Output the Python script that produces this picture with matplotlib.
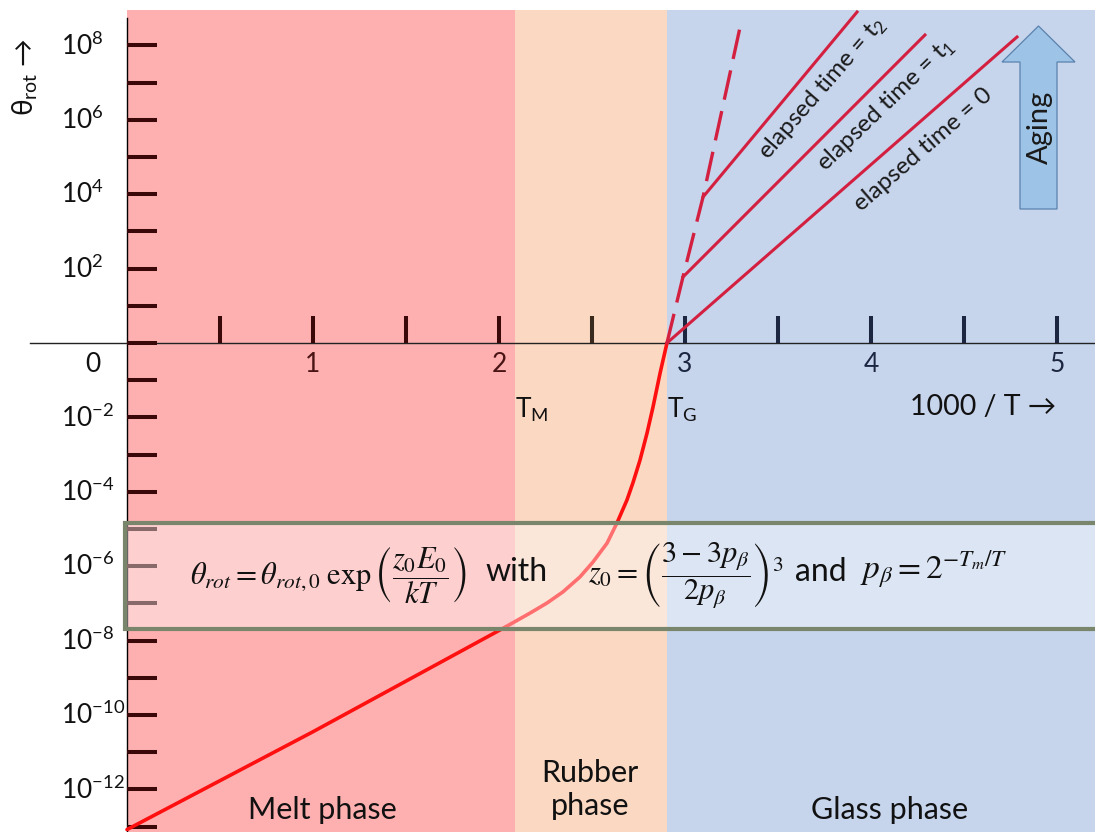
import numpy as np
import matplotlib.pyplot as plt
from matplotlib.patches import Rectangle, Polygon

## 1 Data (x = 1000/T, y = log10 of theta_rot)
melt_end = 2.086   # T_M
glass_start = 2.903  # T_G

# main curve: melt phase line and steep rise through rubber phase
curve_x = [0.0, 1.0, 2.005, 2.075, 2.167, 2.258, 2.344, 2.435, 2.505, 2.581,
           2.634, 2.688, 2.720, 2.758, 2.796, 2.828, 2.866, 2.903]
curve_y = [-13.08, -10.45, -7.715, -7.52, -7.26, -6.99, -6.69, -6.29, -5.89, -5.38,
           -4.84, -4.22, -3.76, -3.15, -2.42, -1.72, -0.81, 0.0]

# dashed extension of the steep part into the glass phase
dash_x = [2.903, 2.989, 3.097, 3.296]
dash_y = [0.0, 1.774, 3.925, 8.49]

# glass phase lines for different elapsed times
t0_x, t0_y = [2.903, 4.785], [0.0, 8.226]
t1_x, t1_y = [2.989, 4.290], [1.774, 8.28]
t2_x, t2_y = [3.097, 3.925], [3.925, 8.898]

y_ticks = np.arange(-13, 9)
y_labels = [-12, -10, -8, -6, -4, -2, 2, 4, 6, 8]
x_ticks = np.arange(0.5, 5.01, 0.5)
x_labels = [1, 2, 3, 4, 5]

## 2 Figure set-up, axes spans the whole picture
fig = plt.figure(figsize=(10.95, 8.32), dpi=100)
ax = fig.add_axes([0, 0, 1, 1])
ax.axis('off')
xmin, xmax = -127 / 186, (1095 - 127) / 186
ymin, ymax = (343 - 832) / 37.2, 343 / 37.2
ax.set_xlim(xmin, xmax)
ax.set_ylim(ymin, ymax)

sans = ['Lato', 'DejaVu Sans']
top = 8.95

# phase backgrounds
ax.add_patch(Rectangle((0, ymin), melt_end, top - ymin, color='#feb0b0', zorder=1, lw=0))
ax.add_patch(Rectangle((melt_end, ymin), glass_start - melt_end, top - ymin, color='#fad8c2', zorder=1, lw=0))
ax.add_patch(Rectangle((glass_start, ymin), xmax - glass_start, top - ymin, color='#c6d4ec', zorder=1, lw=0))

# axis lines
ax.plot([0, 0], [ymin, 8.74], color='black', lw=1.0, zorder=2)
ax.plot([-0.52, xmax], [0, 0], color='#222222', lw=1.0, zorder=2)

# y ticks (drawn inwards)
ax.hlines(y_ticks, 0, 0.161, colors='#3a0808', lw=2.9, zorder=2)
for e in y_labels:
    ax.text(-0.355, e, '10$^{\\mathregular{%d}}$' % e, family=sans, fontsize=19,
            ha='left', va='center', color='#111111', zorder=6)

# x ticks (drawn upwards)
for xt in x_ticks:
    if xt < melt_end:
        c = '#3a0808'
    elif xt < glass_start:
        c = '#3a2a1e'
    else:
        c = '#1c2640'
    ax.vlines(xt, 0, 0.726, colors=c, lw=2.9, zorder=2)
for xl in x_labels:
    c = '#4a1414' if xl < melt_end else '#1c2640'
    ax.text(xl, -0.59, str(xl), family=sans, fontsize=19, ha='center', va='center', color=c, zorder=6)
ax.text(-0.183, -0.59, '0', family=sans, fontsize=19, ha='center', va='center', color='#111111')

## 3 Curves
ax.plot(curve_x, curve_y, color='#ff1010', lw=2.6, zorder=3, solid_capstyle='round',
        solid_joinstyle='round')
ax.plot(dash_x, dash_y, color='#d42040', lw=2.4, zorder=3, dashes=(9, 3.5))
ax.plot(t0_x, t0_y, color='#d42040', lw=2.2, zorder=3)
ax.plot(t1_x, t1_y, color='#d42040', lw=2.2, zorder=3)
ax.plot(t2_x, t2_y, color='#d42040', lw=2.2, zorder=3)

ax.text(4.28, 5.20, 'elapsed time = 0', family=sans, fontsize=17.5, rotation=41,
        ha='center', va='center', rotation_mode='anchor', color='#1a1a1a')
ax.text(4.08, 6.38, 'elapsed time = t$_{\\mathregular{1}}$', family=sans, fontsize=17.5, rotation=44,
        ha='center', va='center', rotation_mode='anchor', color='#1a1a1a')
ax.text(3.74, 6.84, 'elapsed time = t$_{\\mathregular{2}}$', family=sans, fontsize=17.5, rotation=49,
        ha='center', va='center', rotation_mode='anchor', color='#1a1a1a')

## 4 Aging arrow
ax_c = (1038.5 - 127) / 186
hw, sw = 36.5 / 186, 18.5 / 186
a_top, a_neck, a_bot = (343 - 26) / 37.2, (343 - 62) / 37.2, (343 - 209) / 37.2
arrow = Polygon([(ax_c, a_top), (ax_c + hw, a_neck), (ax_c + sw, a_neck), (ax_c + sw, a_bot),
                 (ax_c - sw, a_bot), (ax_c - sw, a_neck), (ax_c - hw, a_neck)],
                closed=True, facecolor='#9dc3e6', edgecolor='#5a82ad', lw=0.9, zorder=3)
ax.add_patch(arrow)
ax.text(ax_c + 0.01, (343 - 127) / 37.2, 'Aging', family=sans, fontsize=21, rotation=90,
        ha='center', va='center', color='#1a1a1a', zorder=4)

## 5 Labels
ax.text(-0.548, 7.14, 'θ$_{\\mathregular{rot}}$ →', family=sans, fontsize=20, rotation=90,
        ha='center', va='center', color='#111111')
ax.text(melt_end, -1.80, 'T$_{\\mathregular{M}}$', family=sans, fontsize=19, ha='left', va='center', color='#111111')
ax.text(glass_start, -1.80, 'T$_{\\mathregular{G}}$', family=sans, fontsize=19, ha='left', va='center', color='#111111')
ax.text(4.21, -1.72, '1000 / T →', family=sans, fontsize=20.5, ha='left', va='center', color='#111111')

ax.text(1.048, -12.55, 'Melt phase', family=sans, fontsize=22, ha='center', va='center', color='#111111')
ax.text(2.489, -12.0, 'Rubber\nphase', family=sans, fontsize=22, ha='center', va='center',
        linespacing=1.25, color='#111111')
ax.text(4.10, -12.55, 'Glass phase', family=sans, fontsize=22, ha='center', va='center', color='#111111')

## 6 Formula box
box = Rectangle((-0.0108, -7.69), 5.3, 2.85, facecolor=(1, 1, 1, 0.4), edgecolor='#7a866c',
                lw=3.0, zorder=4)
ax.add_patch(box)
ax.text(0.339, -6.24, r'$\theta_{rot} = \theta_{rot,0}\;\exp\left(\dfrac{z_0 E_0}{kT}\right)$',
        math_fontfamily='stix', fontsize=22, ha='left', va='center', color='#111111', zorder=5)
ax.text(1.925, -6.15, 'with', family=sans, fontsize=23, ha='left', va='center', color='#111111', zorder=5)
ax.text(2.478, -6.24, r'$z_0 = \left(\dfrac{3-3p_\beta}{2p_\beta}\right)^3$',
        math_fontfamily='stix', fontsize=22, ha='left', va='center', color='#111111', zorder=5)
ax.text(3.59, -6.15, 'and', family=sans, fontsize=23, ha='left', va='center', color='#111111', zorder=5)
ax.text(3.94, -6.10, r'$p_\beta = 2^{-T_m/T}$',
        math_fontfamily='stix', fontsize=24, ha='left', va='center', color='#111111', zorder=5)

fig.savefig('out.png', dpi=100)
